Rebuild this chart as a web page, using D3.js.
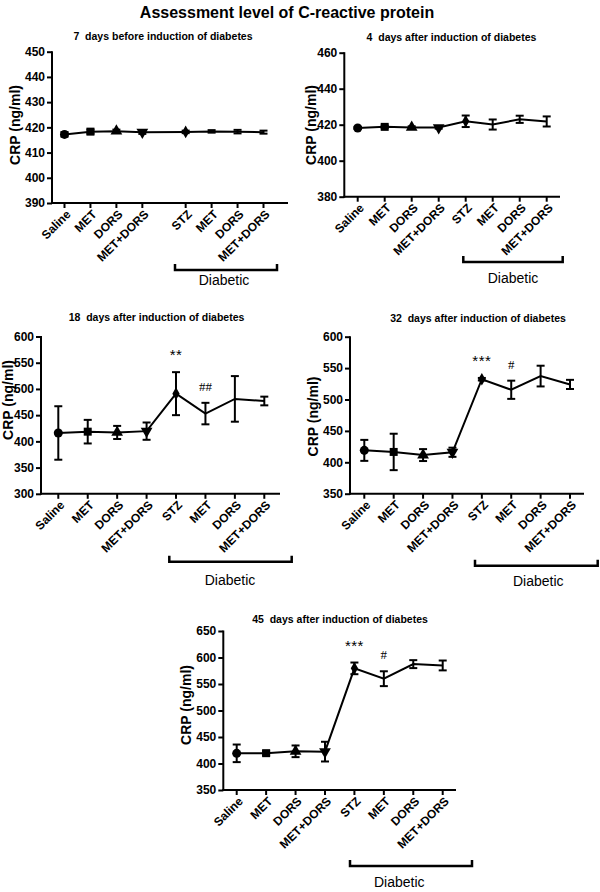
<!DOCTYPE html>
<html>
<head>
<meta charset="utf-8">
<script src="https://cdn.jsdelivr.net/npm/d3@7"></script>
<style>
  html, body { margin: 0; padding: 0; background: #fff; }
  svg { display: block; }
  text { font-family: Arial, "Liberation Sans", sans-serif; fill: #000; }
</style>
</head>
<body>
<svg id="chart" width="600" height="892"></svg>
<script>
// ---------------- DATA ----------------
const categories = ["Saline", "MET", "DORS", "MET+DORS", "STZ", "MET", "DORS", "MET+DORS"];
const mainTitle = "Assessment level of C-reactive protein";
const panelTitles = [
  "7  days before induction of diabetes",
  "4  days after induction of diabetes",
  "18  days after induction of diabetes",
  "32  days after induction of diabetes",
  "45  days after induction of diabetes"
];
const yTicksD7  = [390, 400, 410, 420, 430, 440, 450];
const yTicksD4  = [380, 400, 420, 440, 460];
const yTicksD18 = [300, 350, 400, 450, 500, 550, 600];
const yTicksD32 = [350, 400, 450, 500, 550, 600];
const yTicksD45 = [350, 400, 450, 500, 550, 600, 650];

const meanD7  = [417.2, 418.3, 418.5, 418.1, 418.2, 418.4, 418.3, 418.1];
const semD7   = [0.9, 0.8, 0.6, 0.7, 0.5, 0.5, 0.7, 0.6];
const meanD4  = [418.2, 418.8, 418.5, 418.4, 421.9, 420.1, 423.0, 421.8];
const semD4   = [0.6, 0.7, 0.6, 0.6, 3.2, 2.8, 2.0, 2.8];
const meanD18 = [416, 418.5, 417, 419.5, 491, 453, 481, 477];
const semD18  = [51, 22.5, 12.5, 16.5, 41, 20.5, 43.5, 8.3];
const meanD32 = [419, 416.5, 411.5, 416, 532.3, 515.5, 537.3, 524];
const semD32  = [16.7, 29, 9.5, 7.3, 2, 14.5, 16.5, 7.3];
const meanD45 = [419.2, 419.5, 423, 422.4, 579.5, 560, 587.5, 585];
const semD45  = [16.6, 4, 11, 18.6, 11, 14, 7.5, 9.3];

const yLabel = "CRP (ng/ml)";
const groupLabel = "Diabetic";
const signifD18 = ["", "", "", "", "**", "##", "", ""];
const signifD32 = ["", "", "", "", "***", "#", "", ""];
const signifD45 = ["", "", "", "", "***", "#", "", ""];

// ---------------- LAYOUT ----------------
const svg = d3.select("#chart");

svg.append("text")
  .attr("x", 287).attr("y", 17.5)
  .attr("text-anchor", "middle")
  .style("font-size", "16px").style("font-weight", "bold")
  .text(mainTitle);

const panels = [
  { title: panelTitles[0], mean: meanD7, sem: semD7, ticks: yTicksD7, sig: null,
    ax: 52, yTop: 51.7, yBot: 203, xEnd: 288,
    slots: [0, 1, 2, 3, 4.67, 5.67, 6.67, 7.67], x0: 64.5, x1: 263.5,
    titleX: 163, titleY: 40, ylabX: 15.5, ylabY: 125,
    br: [175, 277, 270], dia: [224, 285] },
  { title: panelTitles[1], mean: meanD4, sem: semD4, ticks: yTicksD4, sig: null,
    ax: 344.3, yTop: 52.7, yBot: 196.7, xEnd: 560,
    slots: [0, 1, 2, 3, 4, 5, 6, 7], x0: 357.7, x1: 546.7,
    titleX: 451.5, titleY: 41, ylabX: 311.5, ylabY: 125,
    br: [463.3, 562.7, 262], dia: [513, 283] },
  { title: panelTitles[2], mean: meanD18, sem: semD18, ticks: yTicksD18, sig: signifD18,
    ax: 41, yTop: 336.5, yBot: 493.8, xEnd: 280,
    slots: [0, 1, 2, 3, 4, 5, 6, 7], x0: 58.3, x1: 264.3,
    titleX: 156.5, titleY: 320.5, ylabX: 8.5, ylabY: 400,
    br: [169.3, 291.7, 561.7], dia: [230, 585] },
  { title: panelTitles[3], mean: meanD32, sem: semD32, ticks: yTicksD32, sig: signifD32,
    ax: 350, yTop: 336.7, yBot: 493.7, xEnd: 584,
    slots: [0, 1, 2, 3, 4, 5, 6, 7], x0: 364.3, x1: 570,
    titleX: 478, titleY: 321.5, ylabX: 313, ylabY: 416.5,
    br: [475, 597.7, 565.7], dia: [538.3, 586] },
  { title: panelTitles[4], mean: meanD45, sem: semD45, ticks: yTicksD45, sig: signifD45,
    ax: 223.3, yTop: 631, yBot: 790, xEnd: 456,
    slots: [0, 1, 2, 3, 4, 5, 6, 7], x0: 236.7, x1: 442.7,
    titleX: 340, titleY: 622.5, ylabX: 186.5, ylabY: 705,
    br: [350, 472, 866], dia: [399.3, 887] }
];

const markerTypes = ["circle", "square", "triUp", "triDown", "diamond", null, null, null];

function markerPath(t) {
  if (t === "circle") return d3.symbol(d3.symbolCircle, 64)();
  if (t === "square") return d3.symbol(d3.symbolSquare, 64)();
  if (t === "triUp" || t === "triDown") return d3.symbol(d3.symbolTriangle, 60)();
  if (t === "diamond") return d3.symbol(d3.symbolDiamond, 46)();
  return null;
}

panels.forEach(p => {
  const g = svg.append("g");
  const slotMax = p.slots[p.slots.length - 1];
  const x = d3.scaleLinear().domain([0, slotMax]).range([p.x0, p.x1]);
  const y = d3.scaleLinear().domain([p.ticks[0], p.ticks[p.ticks.length - 1]]).range([p.yBot, p.yTop]);

  // title
  g.append("text")
    .attr("x", p.titleX).attr("y", p.titleY)
    .attr("text-anchor", "middle")
    .attr("xml:space", "preserve")
    .style("white-space", "pre")
    .style("font-size", "10.5px").style("font-weight", "bold")
    .text(p.title);

  // y axis
  const yAxis = d3.axisLeft(y).tickValues(p.ticks).tickSize(5).tickPadding(2).tickSizeOuter(0);
  const yg = g.append("g").attr("transform", `translate(${p.ax},0)`).call(yAxis);
  yg.select(".domain").attr("stroke", "#000").attr("stroke-width", 2)
    .attr("d", `M0,${p.yBot + 1}V${p.yTop - 0.5}`);
  yg.selectAll(".tick line").attr("stroke", "#000").attr("stroke-width", 2);
  yg.selectAll(".tick text").style("font-size", "12px").style("font-weight", "bold")
    .style("font-family", "Arial, 'Liberation Sans', sans-serif");

  // x axis
  const xg = g.append("g").attr("transform", `translate(0,${p.yBot})`);
  xg.append("line")
    .attr("x1", p.ax - 1).attr("x2", p.xEnd)
    .attr("y1", 0).attr("y2", 0)
    .attr("stroke", "#000").attr("stroke-width", 2);
  categories.forEach((c, i) => {
    const xi = x(p.slots[i]);
    xg.append("line")
      .attr("x1", xi).attr("x2", xi).attr("y1", 0).attr("y2", 5)
      .attr("stroke", "#000").attr("stroke-width", 2);
    xg.append("text")
      .attr("transform", `translate(${xi + 4},${9}) rotate(-45)`)
      .attr("text-anchor", "end")
      .attr("dy", "0.35em")
      .style("font-size", "12px").style("font-weight", "bold")
      .text(c);
  });

  // y label
  g.append("text")
    .attr("transform", `translate(${p.ylabX},${p.ylabY}) rotate(-90)`)
    .attr("text-anchor", "middle")
    .attr("dy", "0.35em")
    .style("font-size", "14px").style("font-weight", "bold")
    .text(yLabel);

  // data line
  const pts = p.mean.map((m, i) => [x(p.slots[i]), y(m)]);
  g.append("path")
    .attr("d", d3.line()(pts))
    .attr("fill", "none").attr("stroke", "#000").attr("stroke-width", 2);

  // error bars
  p.mean.forEach((m, i) => {
    const xi = x(p.slots[i]);
    const yt = y(m + p.sem[i]), yb = y(m - p.sem[i]);
    g.append("line").attr("x1", xi).attr("x2", xi).attr("y1", yt).attr("y2", yb)
      .attr("stroke", "#000").attr("stroke-width", 2);
    [yt, yb].forEach(yy => {
      g.append("line").attr("x1", xi - 4).attr("x2", xi + 4).attr("y1", yy).attr("y2", yy)
        .attr("stroke", "#000").attr("stroke-width", 2);
    });
  });

  // markers
  p.mean.forEach((m, i) => {
    const d = markerPath(markerTypes[i]);
    if (!d) return;
    const rot = markerTypes[i] === "triDown" ? " rotate(180)" : "";
    g.append("path")
      .attr("d", d)
      .attr("transform", `translate(${x(p.slots[i])},${y(m)})${rot}`)
      .attr("fill", "#000");
  });

  // significance
  if (p.sig) {
    p.sig.forEach((s, i) => {
      if (!s) return;
      const top = y(p.mean[i] + p.sem[i]);
      const isStar = s.indexOf("*") >= 0;
      g.append("text")
        .attr("x", x(p.slots[i]))
        .attr("y", isStar ? top - 12 : top - 12)
        .attr("text-anchor", "middle")
        .style("font-size", isStar ? "15px" : "13px")
        .style("letter-spacing", isStar ? "0.5px" : "0px")
        .style("font-family", isStar ? "Arial, 'Liberation Sans', sans-serif" : "'Liberation Serif', 'Times New Roman', serif")
        .text(s);
    });
  }

  // bracket
  const [bx1, bx2, by] = p.br;
  g.append("path")
    .attr("d", `M${bx1},${by - 6}V${by}H${bx2}V${by - 6}`)
    .attr("fill", "none").attr("stroke", "#000").attr("stroke-width", 2.5);
  g.append("text")
    .attr("x", p.dia[0]).attr("y", p.dia[1])
    .attr("text-anchor", "middle")
    .style("font-size", "14px")
    .text(groupLabel);
});
</script>
</body>
</html>
